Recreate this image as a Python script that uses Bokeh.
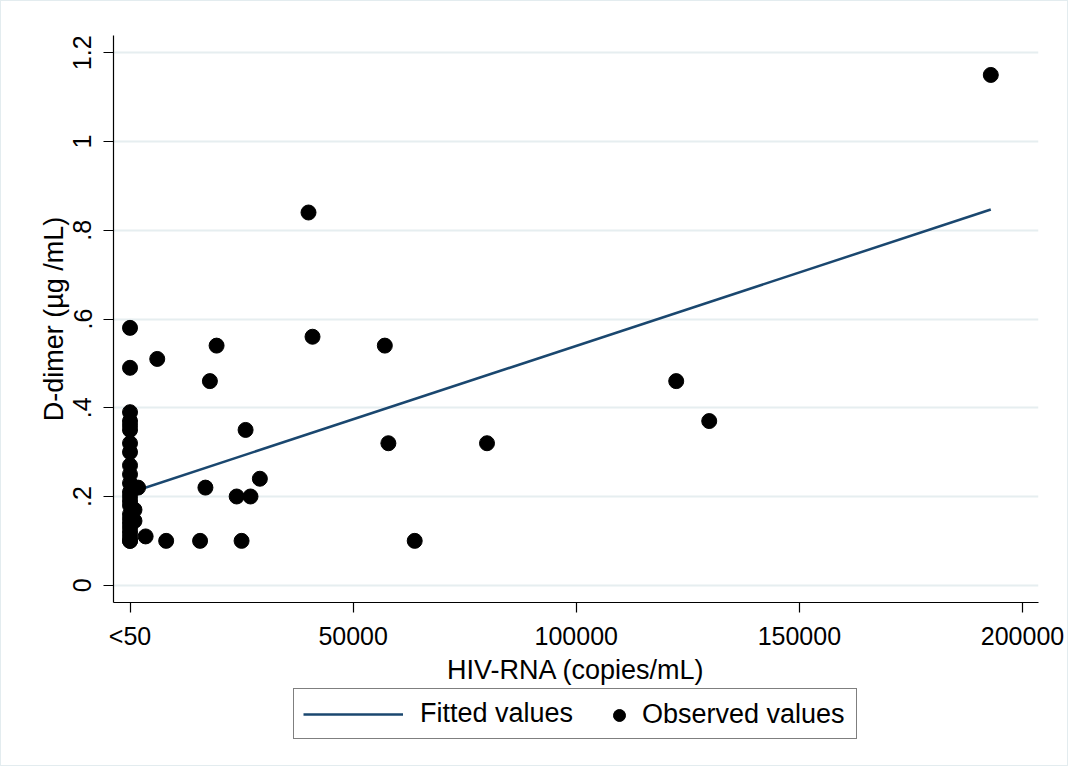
from bokeh.plotting import figure
from bokeh.layouts import column
from bokeh.models import (Legend, LegendItem, FixedTicker, Range1d)
from bokeh.embed import file_html
from bokeh.resources import INLINE

# ---- data ----
# HIV-RNA copies/mL (0 = "<50"), D-dimer ug/mL
obs_x = [0, 0, 0, 0, 0, 0, 0, 0, 0, 0, 0, 0, 0, 0, 0, 0, 0, 0, 0, 0, 0, 0, 0,
         1000, 1000, 1800,
         3500, 6100, 8100, 15700, 16900, 17900, 19400, 23900, 25000, 25900,
         27000, 29100, 40000, 40900, 57100, 57900, 63800, 80000, 122400,
         129800, 192900]
obs_y = [0.58, 0.49, 0.39, 0.37, 0.36, 0.35, 0.32, 0.30, 0.27, 0.25, 0.23,
         0.21, 0.20, 0.19, 0.18, 0.16, 0.15, 0.14, 0.13, 0.12, 0.11, 0.10, 0.10,
         0.17, 0.145, 0.22,
         0.11, 0.51, 0.10, 0.10, 0.22, 0.46, 0.54, 0.20, 0.10, 0.35,
         0.20, 0.24, 0.84, 0.56, 0.54, 0.32, 0.10, 0.32, 0.46,
         0.37, 1.15]
fit_x = [0, 192900]
fit_y = [0.2085, 0.8468]

x_ticks = [0, 50000, 100000, 150000, 200000]
x_tick_labels = ["<50", "50000", "100000", "150000", "200000"]
y_ticks = [0, 0.2, 0.4, 0.6, 0.8, 1.0, 1.2]
y_tick_labels = ["0", ".2", ".4", ".6", ".8", "1", "1.2"]

x_title = "HIV-RNA (copies/mL)"
y_title = "D-dimer (µg /mL)"
legend_labels = ["Fitted values", "Observed values"]

FONT = "Liberation Sans"
GRID = "#e6eef0"
NAVY = "#1a476f"
LINE_W = 2.5
DOT = 15

p = figure(width=1066, height=686, output_backend="svg", toolbar_location=None,
           x_range=Range1d(-3702, 203590), y_range=Range1d(-0.0389, 1.2389),
           min_border_left=112, min_border_right=29, min_border_top=34,
           min_border_bottom=84)
p.outline_line_color = None
p.background_fill_color = "white"
p.border_fill_color = "white"

# grid
p.xgrid.grid_line_color = None
p.ygrid.grid_line_color = GRID
p.ygrid.grid_line_width = 2
p.ygrid.ticker = FixedTicker(ticks=y_ticks)

# axes
for ax in (p.xaxis[0], p.yaxis[0]):
    ax.axis_line_color = "black"
    ax.axis_line_width = 1.2
    ax.major_tick_line_color = "black"
    ax.major_tick_line_width = 1.2
    ax.major_tick_in = 0
    ax.major_tick_out = 10
    ax.minor_tick_line_color = None
    ax.major_label_text_font = FONT
    ax.major_label_text_font_size = "25px"
    ax.major_label_text_color = "black"
    ax.axis_label_text_font = FONT
    ax.axis_label_text_font_size = "27px"
    ax.axis_label_text_font_style = "normal"
    ax.axis_label_text_color = "black"

p.xaxis.ticker = FixedTicker(ticks=x_ticks)
p.xaxis.major_label_overrides = dict(zip(x_ticks, x_tick_labels))
p.xaxis.axis_label = x_title
p.xaxis.major_label_standoff = 9
p.xaxis.axis_label_standoff = 2

p.yaxis.ticker = FixedTicker(ticks=y_ticks)
p.yaxis.major_label_overrides = dict(zip(y_ticks, y_tick_labels))
p.yaxis.major_label_orientation = "vertical"
p.yaxis.axis_label = y_title
p.yaxis.major_label_standoff = 12
p.yaxis.axis_label_standoff = 2

# glyphs
p.line(fit_x, fit_y, line_color=NAVY, line_width=LINE_W)
p.scatter(obs_x, obs_y, marker="circle", size=DOT,
          fill_color="black", line_color="black")

# ---- legend strip (separate small figure below the plot) ----
# its y-range lies above all data, so its renderers only serve as legend keys
q = figure(width=1066, height=78, output_backend="svg", toolbar_location=None,
           x_range=Range1d(-3702, 203590), y_range=Range1d(10, 11),
           x_axis_type=None, y_axis_type=None,
           min_border_left=112, min_border_right=29, min_border_top=0,
           min_border_bottom=0)
q.outline_line_color = None
q.grid.grid_line_color = None
q.background_fill_color = "white"
q.border_fill_color = "white"
key_line = q.line(fit_x, fit_y, line_color=NAVY, line_width=LINE_W)
key_dot = q.scatter(obs_x, obs_y, marker="circle", size=12,
                    fill_color="black", line_color="black")

leg_a = Legend(items=[LegendItem(label=legend_labels[0], renderers=[key_line])],
               location=(180, 26), orientation="horizontal",
               padding=9, spacing=0, margin=0,
               glyph_width=100, glyph_height=30, label_height=30,
               label_standoff=17, label_width=427,
               label_text_font=FONT, label_text_font_size="27px",
               label_text_color="black",
               border_line_color="black", border_line_width=1.3,
               background_fill_color="white", background_fill_alpha=1.0)
leg_b = Legend(items=[LegendItem(label=legend_labels[1], renderers=[key_dot])],
               location=(491, 35), orientation="horizontal",
               padding=0, spacing=0, margin=0,
               glyph_width=30, glyph_height=30, label_height=30,
               label_standoff=8,
               label_text_font=FONT, label_text_font_size="27px",
               label_text_color="black",
               border_line_alpha=0, background_fill_alpha=0)
q.add_layout(leg_a, "center")
q.add_layout(leg_b, "center")

layout = column(p, q, styles={"border": "1px solid #e3ecef"})

open("out.html", "w").write(file_html(layout, INLINE))
